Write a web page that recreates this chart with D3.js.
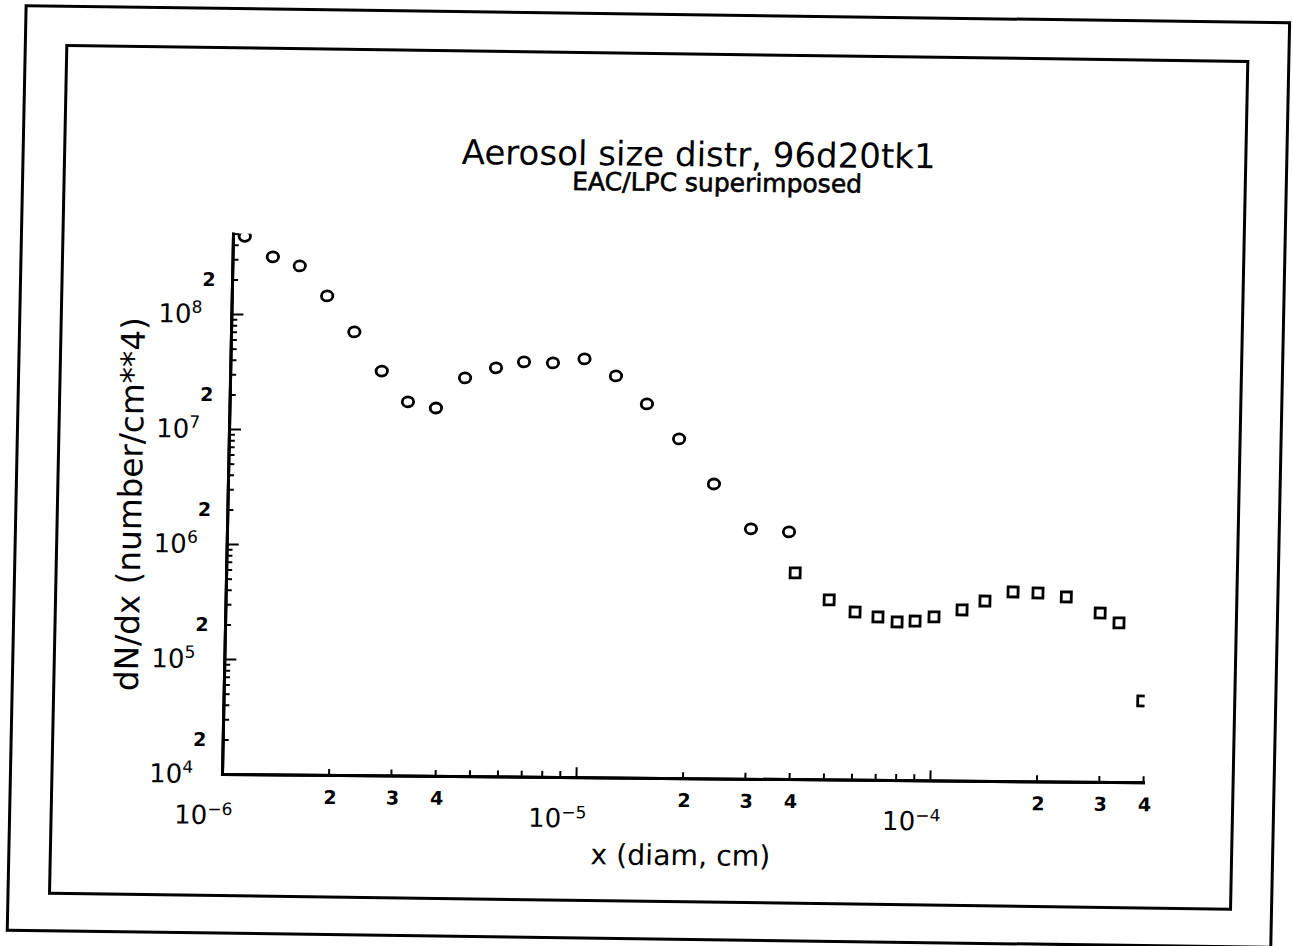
<!DOCTYPE html>
<html>
<head>
<meta charset="utf-8">
<script src="https://cdn.jsdelivr.net/npm/d3@7"></script>
<style>
  html, body { margin: 0; padding: 0; background: #ffffff; }
  svg { display: block; }
</style>
</head>
<body>
<svg id="chart" width="1293" height="946"></svg>
<script>
// ---- Data ----
// EAC series (circles)
const eacX = [1.08e-6, 1.30e-6, 1.55e-6, 1.86e-6, 2.23e-6, 2.68e-6, 3.19e-6, 3.83e-6, 4.61e-6, 5.63e-6,
              6.75e-6, 8.15e-6, 1.00e-5, 1.23e-5, 1.51e-5, 1.87e-5, 2.36e-5, 3.02e-5, 3.87e-5];
const eacY = [4.75e8, 3.16e8, 2.65e8, 1.46e8, 7.14e7, 3.28e7, 1.78e7, 1.58e7, 2.90e7, 3.57e7,
              4.04e7, 3.98e7, 4.34e7, 3.10e7, 1.78e7, 8.89e6, 3.63e6, 1.49e6, 1.41e6];
// LPC series (squares)
const lpcX = [4.05e-5, 5.07e-5, 6.01e-5, 6.98e-5, 7.91e-5, 8.89e-5, 1.005e-4, 1.205e-4, 1.397e-4,
              1.675e-4, 1.97e-4, 2.37e-4, 2.96e-4, 3.35e-4, 3.95e-4];
const lpcY = [6.21e5, 3.64e5, 2.87e5, 2.61e5, 2.37e5, 2.42e5, 2.64e5, 3.05e5, 3.66e5,
              4.41e5, 4.34e5, 4.03e5, 2.94e5, 2.42e5, 5.09e4];

// Axis domains and tick labelling
const xDomain = [1e-6, 4e-4];
const yDomain = [1e4, 5e8];
const xExponents = [-6, -5, -4];
const yExponents = [4, 5, 6, 7, 8];
const xMinorLabels = ["2", "3", "4"];
const yMinorLabels = ["2"];
const minorMultipliers = [2, 3, 4, 5, 6, 7, 8, 9];

// Texts
const titleText = "Aerosol size distr, 96d20tk1";
const subtitleText = "EAC/LPC superimposed";
const xLabelText = "x (diam, cm)";
const yLabelText = "dN/dx (number/cm**4)";

// ---- Layout ----
const FONT = "'DejaVu Sans', sans-serif";
const plotLeft = 222, plotRight = 1143, plotBottom = 774;
const decadePx = 115;
const plotTop = plotBottom - decadePx * Math.log10(yDomain[1] / yDomain[0]);

// slight skew of the scanned page
const skA = 0.0204, skB = 0.009, skBFrame = 0.0135;

const svg = d3.select("#chart");
svg.append("rect").attr("width", 1293).attr("height", 946).attr("fill", "#fff");

// frames (page borders)
const gf = svg.append("g")
  .attr("transform", `matrix(1,${skBFrame},${-skA},1,${skA * plotBottom},${-skBFrame * plotLeft})`);
gf.append("rect").attr("x", 10.5).attr("y", 8.6).attr("width", 1263.5).attr("height", 924.5)
  .attr("fill", "none").attr("stroke", "#000").attr("stroke-width", 3);
gf.append("rect").attr("x", 52).attr("y", 47.8).attr("width", 1181).attr("height", 847.7)
  .attr("fill", "none").attr("stroke", "#000").attr("stroke-width", 3);

const g = svg.append("g")
  .attr("transform", `matrix(1,${skB},${-skA},1,${skA * plotBottom},${-skB * plotLeft})`);

const x = d3.scaleLog().domain(xDomain).range([plotLeft, plotRight]);
const y = d3.scaleLog().domain(yDomain).range([plotBottom, plotTop]);

// tick values
const xMinorVals = [];
xExponents.forEach(e => minorMultipliers.forEach(k => {
  const v = k * Math.pow(10, e);
  if (v <= xDomain[1] * 1.0001) xMinorVals.push(v);
}));
const xMajorVals = xExponents.map(e => Math.pow(10, e));
const yMinorVals = [];
yExponents.forEach(e => minorMultipliers.forEach(k => {
  const v = k * Math.pow(10, e);
  if (v <= yDomain[1] * 1.0001) yMinorVals.push(v);
}));
const yMajorVals = yExponents.map(e => Math.pow(10, e));

function styleAxis(sel) {
  sel.select(".domain").attr("stroke", "#000").attr("stroke-width", 3).attr("stroke-linecap", "square");
  sel.selectAll(".tick line").attr("stroke", "#000").attr("stroke-width", 2);
  sel.selectAll(".tick text").remove();
}

// x axis
const gx = g.append("g").attr("transform", `translate(0,${plotBottom})`);
gx.append("g").call(d3.axisBottom(x).tickValues(xMinorVals).tickSize(-6).tickSizeOuter(0).tickFormat(() => "")).call(styleAxis);
gx.append("g").call(d3.axisBottom(x).tickValues(xMajorVals).tickSize(-10).tickSizeOuter(0).tickFormat(() => "")).call(styleAxis);

// y axis
const gy = g.append("g").attr("transform", `translate(${plotLeft},0)`);
gy.append("g").call(d3.axisLeft(y).tickValues(yMinorVals).tickSize(-6).tickSizeOuter(0).tickFormat(() => "")).call(styleAxis);
gy.append("g").call(d3.axisLeft(y).tickValues(yMajorVals).tickSize(-12).tickSizeOuter(0).tickFormat(() => "")).call(styleAxis);

// x tick labels
const xMinorLabelData = [];
xExponents.forEach(e => xMinorLabels.forEach(s => xMinorLabelData.push({ v: +s * Math.pow(10, e), s })));
g.append("g").selectAll("text").data(xMinorLabelData).join("text")
  .attr("x", d => x(d.v) + 2).attr("y", plotBottom + 29)
  .attr("text-anchor", "middle").attr("font-family", FONT).attr("font-weight", "bold")
  .attr("font-size", 19).text(d => d.s);

const xDec = g.append("g").selectAll("text").data(xExponents).join("text")
  .attr("x", e => x(Math.pow(10, e)) - 47).attr("y", 824)
  .attr("text-anchor", "start").attr("font-family", FONT);
xDec.append("tspan").attr("font-size", 26).text("10");
xDec.append("tspan").attr("font-size", 17).attr("dy", -9).text(e => "\u2212" + Math.abs(e));

// y tick labels
const yDec = g.append("g").selectAll("text").data(yExponents).join("text")
  .attr("x", 193).attr("y", e => y(Math.pow(10, e)) + 9)
  .attr("text-anchor", "end").attr("font-family", FONT);
yDec.append("tspan").attr("font-size", 26).text("10");
yDec.append("tspan").attr("font-size", 17).attr("dy", -10).text(e => String(e));

const yMinorLabelData = [];
yExponents.forEach(e => yMinorLabels.forEach(s => {
  const v = +s * Math.pow(10, e);
  if (v <= yDomain[1]) yMinorLabelData.push({ v, s });
}));
g.append("g").selectAll("text").data(yMinorLabelData).join("text")
  .attr("x", 199).attr("y", d => y(d.v) + 7)
  .attr("text-anchor", "middle").attr("font-family", FONT).attr("font-weight", "bold")
  .attr("font-size", 19).text(d => d.s);

// fit helper
function fit(sel, target) {
  const L = sel.node().getComputedTextLength();
  const fs = parseFloat(sel.attr("font-size"));
  if (L > 0) sel.attr("font-size", (fs * target / L).toFixed(2));
  return sel;
}

// titles
const t1 = g.append("text").attr("x", 686).attr("y", 162).attr("text-anchor", "middle")
  .attr("font-family", FONT).attr("font-size", 28).text(titleText);
fit(t1, 474);
const t2 = g.append("text").attr("x", 705).attr("y", 187).attr("text-anchor", "middle")
  .attr("font-family", FONT).attr("font-size", 22)
  .attr("stroke", "#000").attr("stroke-width", 0.6).text(subtitleText);
fit(t2, 290);

// axis labels
const xl = g.append("text").attr("x", 682).attr("y", 861).attr("text-anchor", "middle")
  .attr("font-family", FONT).attr("font-size", 26).text(xLabelText);
fit(xl, 180);
const yl = g.append("text").attr("transform", `translate(136,505) rotate(-90)`)
  .attr("text-anchor", "middle").attr("font-family", FONT).attr("font-size", 26).text(yLabelText);
fit(yl, 374);

// clip to plot area
g.append("clipPath").attr("id", "plotClip").append("rect")
  .attr("x", plotLeft).attr("y", plotTop).attr("width", plotRight - plotLeft).attr("height", plotBottom - plotTop);

const marks = g.append("g").attr("clip-path", "url(#plotClip)");

const eac = eacX.map((v, i) => ({ x: v, y: eacY[i] }));
const lpc = lpcX.map((v, i) => ({ x: v, y: lpcY[i] }));

marks.selectAll("ellipse").data(eac).join("ellipse")
  .attr("cx", d => x(d.x)).attr("cy", d => y(d.y))
  .attr("rx", 5.7).attr("ry", 5.0)
  .attr("fill", "none").attr("stroke", "#000").attr("stroke-width", 2.8);

const sq = 10;
marks.selectAll("rect.lpc").data(lpc).join("rect").attr("class", "lpc")
  .attr("x", d => x(d.x) - sq / 2).attr("y", d => y(d.y) - sq / 2)
  .attr("width", sq).attr("height", sq)
  .attr("fill", "none").attr("stroke", "#000").attr("stroke-width", 2.8);
</script>
</body>
</html>
